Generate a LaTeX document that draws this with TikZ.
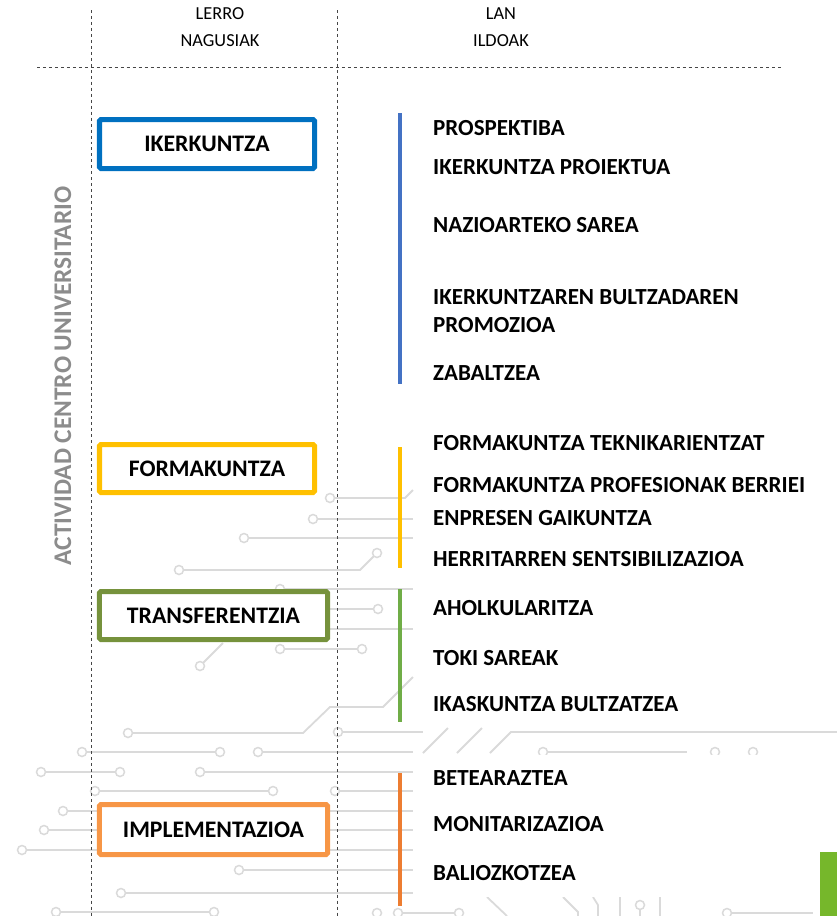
\documentclass[tikz,border=0pt]{standalone}
\usepackage{fontspec}
\setmainfont{Carlito}
\usetikzlibrary{positioning}
\definecolor{ikerblue}{RGB}{0,112,192}
\definecolor{formyellow}{RGB}{255,192,0}
\definecolor{transgreen}{RGB}{118,146,60}
\definecolor{implorange}{RGB}{247,150,70}
\definecolor{ikerbar}{RGB}{68,114,196}
\definecolor{transbar}{RGB}{112,173,71}
\definecolor{implbar}{RGB}{237,125,49}
\definecolor{tracegray}{RGB}{218,218,218}
\definecolor{guidegray}{RGB}{70,70,70}
\definecolor{sidegray}{RGB}{140,140,140}
\definecolor{cornergreen}{RGB}{118,183,43}
\tikzstyle{mainbox} = [draw,fill=white,line width=5bp,rounded corners=1.5bp,inner sep=0pt,font=\fontsize{23.8}{26}\selectfont\bfseries]
\tikzstyle{ildo} = [anchor=west,inner sep=0pt,align=left,font=\fontsize{23.1}{28}\selectfont\bfseries]
\tikzstyle{header} = [align=center,inner sep=0pt,font=\fontsize{18.4}{27}\selectfont]
\tikzstyle{bar} = [line width=3.5bp]
\tikzstyle{trace} = [draw=tracegray,line width=1.8bp]
\tikzstyle{pad} = [draw=tracegray,fill=white,line width=1.5bp]
\tikzstyle{guide} = [draw=guidegray,dashed,line width=0.6bp]

\begin{document}
\begin{tikzpicture}[x=1bp,y=-1bp]
   \useasboundingbox (0,0) rectangle (837,916);

   \draw[trace] (330,498) -- (405,498) -- (413,490);
   \draw[trace] (313,519) -- (413,519);
   \draw[trace] (244,538) -- (413,538);
   \draw[trace] (179,570) -- (360,570) -- (377,553);
   \draw[trace] (280,589) -- (413,589);
   \draw[trace] (330,609) -- (378,609);
   \draw[trace] (330,629) -- (413,629);
   \draw[trace] (280,649) -- (362,649);
   \draw[trace] (200,666) -- (223,643);
   \draw[trace] (128,733) -- (303,733) -- (330,707) -- (383,707) -- (413,677);
   \draw[trace] (338,732) -- (423,732);
   \draw[trace] (423,753) -- (448,728);
   \draw[trace] (457,753) -- (482,728);
   \draw[trace] (490,753) -- (511,732) -- (837,732);
   \draw[trace] (543,752) -- (687,752);
   \draw[trace] (82,752) -- (220,752);
   \draw[trace] (258,752) -- (413,752);
   \draw[trace] (41,772) -- (120,772);
   \draw[trace] (200,772) -- (413,772);
   \draw[trace] (95,791) -- (273,791);
   \draw[trace] (335,791) -- (413,791);
   \draw[trace] (63,811) -- (413,811);
   \draw[trace] (44,830) -- (413,830);
   \draw[trace] (22,850) -- (413,850);
   \draw[trace] (239,870) -- (413,870);
   \draw[trace] (121,893) -- (413,893);
   \draw[trace] (56,912) -- (214,912);
   \draw[trace] (398,913) -- (459,913);
   \draw[trace] (487,897) -- (507,916);
   \draw[trace] (563,897) -- (578,912) -- (578,916);
   \draw[trace] (593,897) -- (598,905) -- (598,916);
   \draw[trace] (620,897) -- (620,916);
   \draw[trace] (640,905) -- (640,916);
   \draw[trace] (660,897) -- (660,916);
   \draw[trace] (727,913) -- (813,913);
   \foreach \x/\y in {330/498,313/519,244/538,179/570,377/553,280/589,378/609,
      280/649,362/649,200/666,128/733,338/732,543/752,715/752,753/752,
      82/752,220/752,258/752,41/772,120/772,200/772,95/791,273/791,335/791,
      63/811,44/830,22/850,239/870,121/893,56/912,214/912,377/913,398/913,
      459/913,640/905,727/913}
      \filldraw[pad] (\x,\y) circle (4.5bp);
   \fill[white] (413,755) rectangle (820,897);
   \fill[cornergreen] (820,852) rectangle (837,916);

   \draw[guide] (91,10) -- (91,916);
   \draw[guide] (337,10) -- (337,916);
   \draw[guide] (37,67) -- (783,67);

   \node[header] (lerro) at (220,27) {LERRO\\NAGUSIAK};
   \node[header] (lan) at (501,27) {LAN\\ILDOAK};
   \node[rotate=90,text=sidegray,font=\fontsize{25.5}{28}\selectfont\bfseries] (actividad) at (63,376) {ACTIVIDAD CENTRO UNIVERSITARIO};

   \node[mainbox,draw=ikerblue,minimum width=215bp,minimum height=49bp] (ikerkuntza) at (207,144) {IKERKUNTZA};
   \node[mainbox,draw=formyellow,minimum width=215bp,minimum height=48bp] (formakuntza) at (207,468.5) {FORMAKUNTZA};
   \node[mainbox,draw=transgreen,minimum width=228bp,minimum height=48bp] (transferentzia) at (213.5,615.5) {TRANSFERENTZIA};
   \node[mainbox,draw=implorange,minimum width=228bp,minimum height=50bp] (implementazioa) at (213.5,829.5) {IMPLEMENTAZIOA};

   \coordinate (ikerTop) at (400,113);   \coordinate (ikerBot) at (400,384);
   \coordinate (formTop) at (400,447);   \coordinate (formBot) at (400,568);
   \coordinate (transTop) at (400,589);  \coordinate (transBot) at (400,722);
   \coordinate (implTop) at (400,773);   \coordinate (implBot) at (400,906);
   \draw[bar,ikerbar] (ikerTop) -- (ikerBot);
   \draw[bar,formyellow] (formTop) -- (formBot);
   \draw[bar,transbar] (transTop) -- (transBot);
   \draw[bar,implbar] (implTop) -- (implBot);

   \node[ildo] (prospektiba) at (433,128) {PROSPEKTIBA};
   \node[ildo] (proiektua) at (433,167) {IKERKUNTZA PROIEKTUA};
   \node[ildo] (sarea) at (433,225) {NAZIOARTEKO SAREA};
   \node[ildo] (promozioa) at (433,311) {IKERKUNTZAREN BULTZADAREN\\PROMOZIOA};
   \node[ildo] (zabaltzea) at (433,373) {ZABALTZEA};
   \node[ildo] (teknikariak) at (433,443) {FORMAKUNTZA TEKNIKARIENTZAT};
   \node[ildo] (profesionalak) at (433,485) {FORMAKUNTZA PROFESIONAK BERRIEI};
   \node[ildo] (enpresak) at (433,518) {ENPRESEN GAIKUNTZA};
   \node[ildo] (herritarrak) at (433,559) {HERRITARREN SENTSIBILIZAZIOA};
   \node[ildo] (aholkularitza) at (433,608) {AHOLKULARITZA};
   \node[ildo] (tokisareak) at (433,658) {TOKI SAREAK};
   \node[ildo] (ikaskuntza) at (433,704) {IKASKUNTZA BULTZATZEA};
   \node[ildo] (betearaztea) at (433,778) {BETEARAZTEA};
   \node[ildo] (monitarizazioa) at (433,824) {MONITARIZAZIOA};
   \node[ildo] (baliozkotzea) at (433,873) {BALIOZKOTZEA};
\end{tikzpicture}
\end{document}
